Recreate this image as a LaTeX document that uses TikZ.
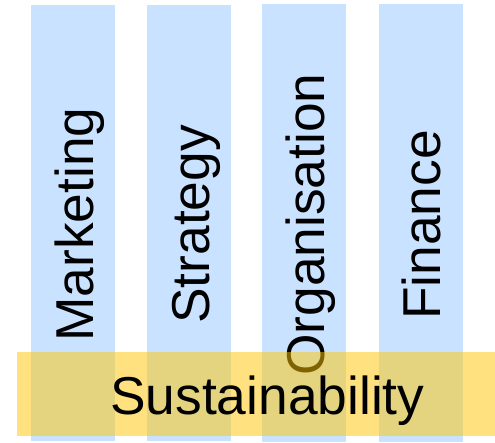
\documentclass[tikz,border=0pt]{standalone}
\usepackage{fontspec}
\setmainfont{Liberation Sans}
\definecolor{barblue}{HTML}{C9E2FF}
\definecolor{bandyellow}{HTML}{FFC600}
\tikzset{
  pillar/.style={fill=barblue,draw=none,anchor=north west,minimum width=63pt,inner sep=0pt},
  band/.style={fill=bandyellow,fill opacity=0.5,draw=none,anchor=north west,inner sep=0pt,minimum width=358.5pt,minimum height=63pt},
  lab/.style={font=\fontsize{40}{40}\selectfont,text=black,inner sep=0pt},
}
\begin{document}
\begin{tikzpicture}[x=0.75pt,y=-0.75pt]
\useasboundingbox (0,0) rectangle (495,442);
\fill[white] (0,0) rectangle (495,442);
\node[pillar,minimum height=327pt] (p1) at (31,5) {};
\node[pillar,minimum height=327pt] (p2) at (147,5) {};
\node[pillar,minimum height=328pt] (p3) at (262,4) {};
\node[pillar,minimum height=328pt] (p4) at (379,4) {};
\node[lab,rotate=90,anchor=base west] (m) at (93,342) {Marketing};
\node[lab,rotate=90,anchor=base west] (s) at (209,324) {Strategy};
\node[lab,rotate=90,anchor=base west] (o) at (324,376) {Organisation};
\node[lab,rotate=90,anchor=base west] (f) at (440.5,320) {Finance};
\node[band] (b) at (17,352) {};
\node[lab,anchor=base west] (t) at (110,414) {Sustainability};
\end{tikzpicture}
\end{document}
